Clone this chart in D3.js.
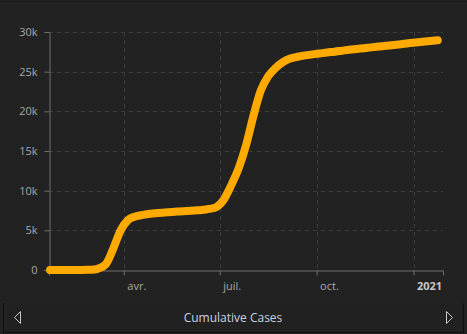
<!DOCTYPE html>
<html>
<head>
<meta charset="utf-8">
<script src="https://cdn.jsdelivr.net/npm/d3@7"></script>
<style>
  html, body { margin: 0; padding: 0; background: #222222; }
  svg { display: block; }
</style>
</head>
<body>
<svg id="chart" width="467" height="334"></svg>
<script>
// Weekly readings of cumulative cases
const dates = [
  "2020-01-22","2020-01-29","2020-02-05","2020-02-12","2020-02-19","2020-02-26",
  "2020-03-04","2020-03-08","2020-03-15","2020-03-22","2020-03-29","2020-04-05",
  "2020-04-12","2020-04-19","2020-04-26","2020-05-03","2020-05-10","2020-05-17",
  "2020-05-24","2020-05-31","2020-06-07","2020-06-14","2020-06-21","2020-06-28",
  "2020-07-05","2020-07-12","2020-07-19","2020-07-26","2020-08-02","2020-08-09",
  "2020-08-16","2020-08-23","2020-08-30","2020-09-06","2020-09-13","2020-09-20",
  "2020-09-27","2020-10-04","2020-10-11","2020-10-18","2020-10-25","2020-11-01",
  "2020-11-08","2020-11-15","2020-11-22","2020-11-29","2020-12-06","2020-12-13",
  "2020-12-20","2020-12-27","2021-01-03","2021-01-10","2021-01-17","2021-01-24"
];
const cases = [
  0, 0, 2, 5, 10, 20,
  60, 200, 750, 2700, 5000, 6300,
  6750, 6950, 7100, 7180, 7250, 7320,
  7380, 7440, 7500, 7560, 7700, 7950,
  8900, 10700, 12800, 15700, 19400, 22600,
  24400, 25450, 26200, 26650, 26880, 27050,
  27180, 27300, 27420, 27520, 27640, 27760,
  27860, 27960, 28060, 28160, 28260, 28360,
  28460, 28580, 28680, 28780, 28870, 28950
];
const yTicks = [0, 5000, 10000, 15000, 20000, 25000, 30000];
const xTicks = ["2020-04-01", "2020-07-01", "2020-10-01", "2021-01-01"];
const xTickLabels = ["avr.", "juil.", "oct.", "2021"];
const title = "Cumulative Cases";

const parse = d3.timeParse("%Y-%m-%d");
const series = dates.map((d, i) => ({ date: parse(d), value: cases[i] }));

const svg = d3.select("#chart");
const W = 467, H = 334;
const m = { left: 49, right: 24, top: 32, bottom: 64 };

svg.append("rect").attr("width", W).attr("height", H).attr("fill", "#222222");
svg.append("line").attr("x1", 0).attr("x2", W).attr("y1", 1.5).attr("y2", 1.5)
  .attr("stroke", "#1a1a1a").attr("stroke-width", 1);

const x = d3.scaleTime()
  .domain([parse("2020-01-21"), parse("2021-01-29")])
  .range([m.left, W - m.right]);
const y = d3.scaleLinear()
  .domain([0, 30000])
  .range([H - m.bottom, m.top]);

const font = "'Open Sans', 'Noto Sans', sans-serif";

// horizontal grid
svg.append("g").selectAll("line").data(yTicks.filter(v => v > 0)).join("line")
  .attr("x1", m.left).attr("x2", W - m.right)
  .attr("y1", d => Math.round(y(d)) + 0.5).attr("y2", d => Math.round(y(d)) + 0.5)
  .attr("stroke", "#3c3c3c").attr("stroke-dasharray", "4,4");

// vertical grid
svg.append("g").selectAll("line").data(xTicks).join("line")
  .attr("x1", d => Math.round(x(parse(d))) + 0.5).attr("x2", d => Math.round(x(parse(d))) + 0.5)
  .attr("y1", m.top).attr("y2", y(0))
  .attr("stroke", "#3c3c3c").attr("stroke-dasharray", "4,4");

// y axis
const yAxis = svg.append("g")
  .attr("transform", `translate(${m.left + 0.5},0)`)
  .call(d3.axisLeft(y).tickValues(yTicks).tickSize(5).tickPadding(7)
    .tickFormat(d => d === 0 ? "0" : (d / 1000) + "k"));
yAxis.select(".domain").attr("stroke", "#6e6e6e");
yAxis.selectAll(".tick line").attr("stroke", "#6e6e6e");
yAxis.selectAll("text").attr("fill", "#a8a8a8").style("font-family", font).style("font-size", "11px");

// x axis: labels sit just to the right of their tick
const xAxis = svg.append("g")
  .attr("transform", `translate(0,${Math.round(y(0)) + 0.5})`)
  .call(d3.axisBottom(x).tickValues(xTicks.map(parse)).tickSize(5).tickPadding(7)
    .tickFormat((d, i) => xTickLabels[i]));
xAxis.select(".domain").attr("stroke", "#6e6e6e");
xAxis.selectAll(".tick line").attr("stroke", "#6e6e6e");
xAxis.selectAll("text")
  .attr("text-anchor", "start")
  .attr("dx", 3)
  .style("font-family", font).style("font-size", "11px")
  .style("font-weight", d => d.getMonth() === 0 ? "bold" : "normal")
  .attr("fill", d => d.getMonth() === 0 ? "#c8c8c8" : "#a8a8a8");

// cumulative line
const line = d3.line().x(d => x(d.date)).y(d => y(d.value)).curve(d3.curveMonotoneX);
svg.append("path").datum(series)
  .attr("d", line)
  .attr("fill", "none")
  .attr("stroke", "#ffaa00")
  .attr("stroke-width", 8)
  .attr("stroke-linecap", "round")
  .attr("stroke-linejoin", "round");

// bottom navigation bar
const bar = svg.append("g");
bar.append("rect").attr("x", 3.5).attr("y", 303.5).attr("width", 460).attr("height", 28.5)
  .attr("fill", "#212121").attr("stroke", "none");
bar.append("path").attr("d", "M3.5,303 V332.5 H463.5 V303")
  .attr("fill", "none").attr("stroke", "#0e0e0e").attr("stroke-width", 1);
bar.append("text").attr("x", 233).attr("y", 321.5).attr("text-anchor", "middle")
  .attr("fill", "#c9d2e2").style("font-family", font).style("font-size", "12px")
  .text(title);
bar.append("path").attr("d", "M20.5,311.5 L14.5,317.5 L20.5,323.5 Z")
  .attr("fill", "none").attr("stroke", "#c8c8c8").attr("stroke-width", 1);
bar.append("path").attr("d", "M446.5,311.5 L452.5,317.5 L446.5,323.5 Z")
  .attr("fill", "none").attr("stroke", "#c8c8c8").attr("stroke-width", 1);
</script>
</body>
</html>
